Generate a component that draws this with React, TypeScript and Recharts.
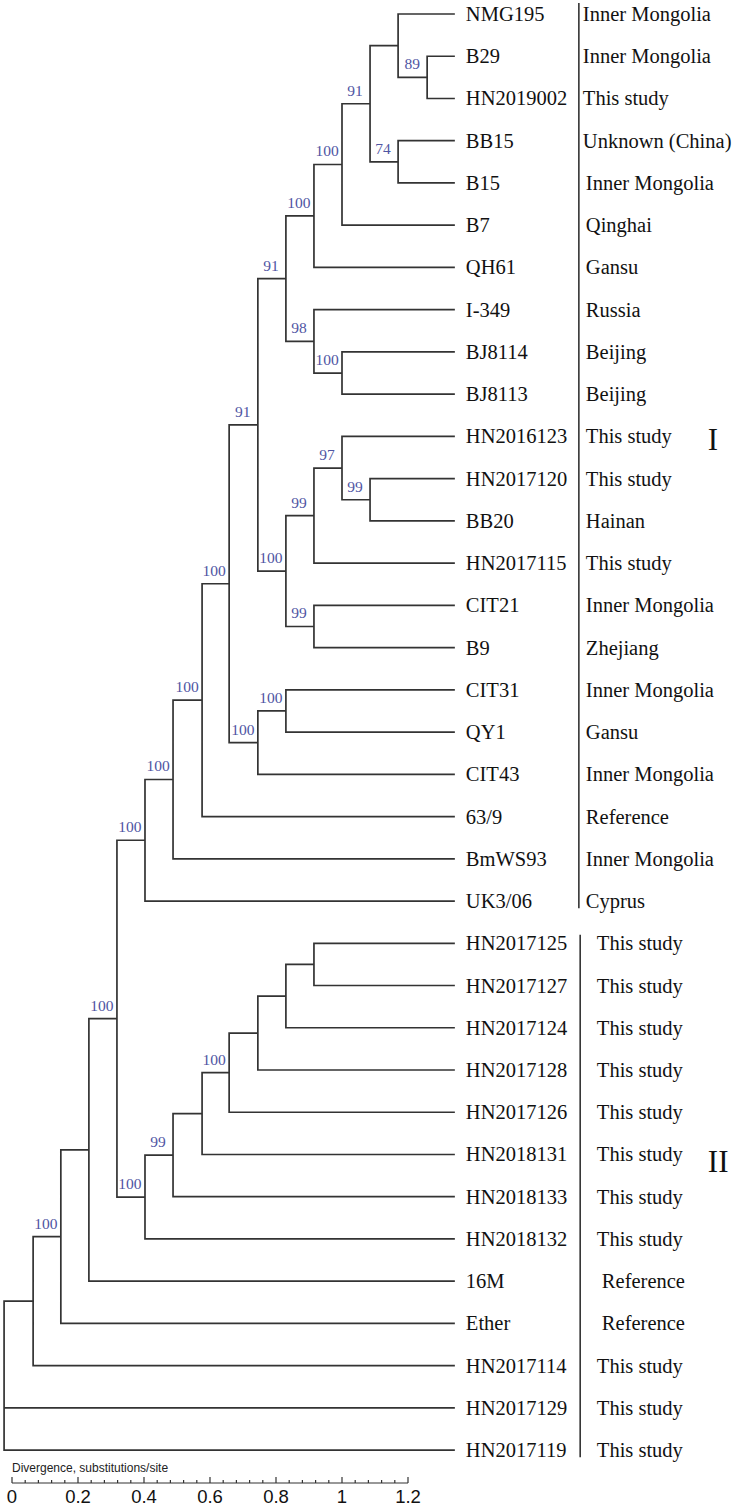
import React from 'react';
import { ComposedChart, LineChart, Line, Scatter, XAxis, YAxis, ReferenceLine, Label } from 'recharts';

// leaves, top to bottom
const leafNames = [
  'NMG195', 'B29', 'HN2019002', 'BB15', 'B15', 'B7', 'QH61', 'I-349', 'BJ8114', 'BJ8113',
  'HN2016123', 'HN2017120', 'BB20', 'HN2017115', 'CIT21', 'B9', 'CIT31', 'QY1', 'CIT43', '63/9',
  'BmWS93', 'UK3/06', 'HN2017125', 'HN2017127', 'HN2017124', 'HN2017128', 'HN2017126', 'HN2018131',
  'HN2018133', 'HN2018132', '16M', 'Ether', 'HN2017114', 'HN2017129', 'HN2017119',
];
const leafOrigins = [
  'Inner Mongolia', 'Inner Mongolia', 'This study', 'Unknown (China)', 'Inner Mongolia', 'Qinghai', 'Gansu',
  'Russia', 'Beijing', 'Beijing', 'This study', 'This study', 'Hainan', 'This study', 'Inner Mongolia',
  'Zhejiang', 'Inner Mongolia', 'Gansu', 'Inner Mongolia', 'Reference', 'Inner Mongolia', 'Cyprus',
  'This study', 'This study', 'This study', 'This study', 'This study', 'This study', 'This study',
  'This study', 'Reference', 'Reference', 'This study', 'This study', 'This study',
];
const leafParents = [
  'n14', 'n15', 'n15', 'n16', 'n16', 'n12', 'n11', 'n17', 'n18', 'n18',
  'n21', 'n22', 'n22', 'n20', 'n23', 'n23', 'n25', 'n25', 'n24', 'n7',
  'n6', 'n5', 'n32', 'n32', 'n31', 'n30', 'n29', 'n28', 'n27', 'n26',
  'n3', 'n2', 'n1', 'n0', 'n0',
];
const leafDepth = 1.342;

// internal nodes (depth = divergence, substitutions/site)
const nodeIds = [
  'n0', 'n1', 'n2', 'n3', 'n4', 'n5', 'n6', 'n7', 'n8', 'n9', 'n10', 'n11', 'n12', 'n13', 'n14', 'n15', 'n16',
  'n17', 'n18', 'n19', 'n20', 'n21', 'n22', 'n23', 'n24', 'n25', 'n26', 'n27', 'n28', 'n29', 'n30', 'n31', 'n32',
];
const nodeParents = [
  null, 'n0', 'n1', 'n2', 'n3', 'n4', 'n5', 'n6', 'n7', 'n8', 'n9', 'n10', 'n11', 'n12', 'n13', 'n14', 'n13',
  'n10', 'n17', 'n9', 'n19', 'n20', 'n21', 'n19', 'n8', 'n24', 'n4', 'n26', 'n27', 'n28', 'n29', 'n30', 'n31',
];
const nodeDepths = [
  -0.024, 0.064, 0.148, 0.233, 0.318, 0.403, 0.488, 0.576, 0.658, 0.745, 0.83, 0.915, 1.0, 1.085, 1.17, 1.258, 1.17,
  0.915, 1.0, 0.83, 0.915, 1.0, 1.085, 0.915, 0.745, 0.83, 0.403, 0.488, 0.576, 0.658, 0.745, 0.83, 0.915,
];
const nodeSupport = [
  null, null, 100, null, 100, 100, 100, 100, 100, 91, 91, 100, 100, 91, null, 89, 74,
  98, 100, 100, 99, 97, 99, 99, 100, 100, 100, 99, null, 100, null, null, null,
];

const cladeNames = ['I', 'II'];
const cladeFirst = [0, 22];
const cladeLast = [21, 34];

const scaleTicks = [
  0, 0.04, 0.08, 0.12, 0.16, 0.2, 0.24, 0.28, 0.32, 0.36, 0.4, 0.44, 0.48, 0.52, 0.56, 0.6,
  0.64, 0.68, 0.72, 0.76, 0.8, 0.84, 0.88, 0.92, 0.96, 1, 1.04, 1.08, 1.12, 1.16, 1.2,
];
const scaleLabels = ['0', '0.2', '0.4', '0.6', '0.8', '1', '1.2'];

// layout
const W = 739;
const H = 1507;
const PX_PER_UNIT = 330;
const X0 = 12;
const ROW = 42.24;
const Y0 = 14;
const SERIF = '"Liberation Serif", "Times New Roman", serif';
const SANS = '"Liberation Sans", Arial, sans-serif';
const LINE = '#333';
const BLUE = '#4f55a3';
const cladeLabelRow = [10.05, 27.15];

type TreeItem = { id: string; depth: number; y: number; children: TreeItem[]; support: number | null };

const buildTree = () => {
  const map: Record<string, TreeItem> = {};
  nodeIds.forEach((id, i) => {
    map[id] = { id, depth: nodeDepths[i], y: 0, children: [], support: nodeSupport[i] };
  });
  nodeIds.forEach((id, i) => {
    const p = nodeParents[i];
    if (p) map[p].children.push(map[id]);
  });
  leafNames.forEach((name, i) => {
    map[leafParents[i]].children.push({ id: name, depth: leafDepth, y: i, children: [], support: null });
  });
  const place = (n: TreeItem): number => {
    if (!n.children.length) return n.y;
    n.children.forEach(place);
    n.children.sort((a, b) => a.y - b.y);
    n.y = (n.children[0].y + n.children[n.children.length - 1].y) / 2;
    return n.y;
  };
  place(map.n0);
  return map;
};

const tree = buildTree();

const treeRows: { x: number; y: number | null }[] = [];
const walk = (n: TreeItem) => {
  if (!n.children.length) return;
  const kids = n.children;
  const a = kids[0];
  const b = kids[kids.length - 1];
  treeRows.push({ x: a.depth, y: a.y }, { x: n.depth, y: a.y }, { x: n.depth, y: b.y }, { x: b.depth, y: b.y }, { x: b.depth, y: null });
  kids.slice(1, -1).forEach((k) => {
    treeRows.push({ x: n.depth, y: k.y }, { x: k.depth, y: k.y }, { x: k.depth, y: null });
  });
  kids.forEach(walk);
};
walk(tree.n0);

const leafRows = leafNames.map((name, i) => ({
  x: leafDepth,
  y: i,
  name,
  origin: leafOrigins[i],
  clade: i >= cladeFirst[1] ? 1 : 0,
}));

const supportRows = nodeIds
  .map((id) => tree[id])
  .filter((n) => n.support !== null)
  .map((n) => ({ x: n.depth, y: n.y, support: n.support }));

const cladeRows = cladeNames.map((name, i) => ({ x: leafDepth, y: cladeLabelRow[i], name }));

const LeafLabel = (p: any) => {
  const { cx, cy, payload } = p;
  let off = 131;
  if (payload.clade === 1) off = payload.origin === 'Reference' ? 147 : 142;
  else if (payload.y < 4) off = 128;
  return (
    <g>
      <text x={cx + 11} y={cy + 7} fontSize={20.5} fontFamily={SERIF} fill="#111">{payload.name}</text>
      <text x={cx + off} y={cy + 7} fontSize={20.5} fontFamily={SERIF} fill="#111">{payload.origin}</text>
    </g>
  );
};

const SupportLabel = (p: any) => (
  <text x={p.cx - 15} y={p.cy - 8} textAnchor="middle" fontSize={15.5} fontFamily={SERIF} fill={BLUE}>
    {p.payload.support}
  </text>
);

const CladeLabel = (p: any) => (
  <text x={p.cx + 253} y={p.cy + 11} textAnchor="start" fontSize={31} fontFamily={SERIF} fill="#111">
    {p.payload.name}
  </text>
);

const ScaleTick = (p: any) => {
  const { x, y, payload } = p;
  const i = scaleTicks.indexOf(payload.value);
  const major = i % 5 === 0;
  return (
    <g>
      <line x1={x} y1={y} x2={x} y2={y - (major ? 6 : 3)} stroke={LINE} strokeWidth={1.2} />
      {major && (
        <text x={x} y={y + 20} textAnchor="middle" fontSize={18.5} fontFamily={SANS} fill="#111">
          {scaleLabels[i / 5]}
        </text>
      )}
    </g>
  );
};

const barX = leafDepth + 124 / PX_PER_UNIT;

export default function App() {
  return (
    <div style={{ position: 'absolute', left: 0, top: 0, width: W, height: H, background: '#fff' }}>
      <div style={{ position: 'absolute', left: 0, top: 0 }}>
        <ComposedChart width={W} height={H} margin={{ top: 0, right: 0, bottom: 0, left: 0 }}>
          <XAxis
            type="number"
            dataKey="x"
            hide
            allowDataOverflow
            domain={[-X0 / PX_PER_UNIT, (W - X0) / PX_PER_UNIT]}
          />
          <YAxis
            type="number"
            dataKey="y"
            hide
            reversed
            allowDataOverflow
            domain={[-Y0 / ROW, (H - Y0) / ROW]}
          />
          <Line
            data={treeRows}
            dataKey="y"
            type="linear"
            stroke={LINE}
            strokeWidth={1.7}
            dot={false}
            activeDot={false}
            connectNulls={false}
            isAnimationActive={false}
          />
          {cladeNames.map((c, i) => (
            <ReferenceLine
              key={c}
              segment={[
                { x: barX + i * 0.004, y: cladeFirst[i] - (i === 0 ? 0.26 : 0.2) },
                { x: barX + i * 0.004, y: cladeLast[i] + 0.17 },
              ]}
              stroke={LINE}
              strokeWidth={1.6}
              ifOverflow="visible"
            />
          ))}
          <Scatter data={leafRows} shape={LeafLabel} isAnimationActive={false} />
          <Scatter data={supportRows} shape={SupportLabel} isAnimationActive={false} />
          <Scatter data={cladeRows} shape={CladeLabel} isAnimationActive={false} />
        </ComposedChart>
      </div>
      <div style={{ position: 'absolute', left: 0, top: 1440 }}>
        <LineChart
          width={424}
          height={67}
          margin={{ top: 0, right: 16, bottom: 0, left: 12 }}
          data={scaleTicks.map((v) => ({ v }))}
        >
          <XAxis
            type="number"
            dataKey="v"
            domain={[0, 1.2]}
            allowDataOverflow
            ticks={scaleTicks}
            interval={0}
            height={24}
            tickSize={0}
            tickMargin={0}
            tickLine={false}
            axisLine={{ stroke: LINE, strokeWidth: 1.2 }}
            tick={ScaleTick}
          >
            <Label
              content={(p: any) => (
                <text x={p.viewBox.x} y={p.viewBox.y - 11} fontSize={12} fontFamily={SANS} fill="#222">
                  Divergence, substitutions/site
                </text>
              )}
            />
          </XAxis>
          <YAxis hide domain={[0, 1]} />
          <Line dataKey="y" dot={false} isAnimationActive={false} />
        </LineChart>
      </div>
    </div>
  );
}
